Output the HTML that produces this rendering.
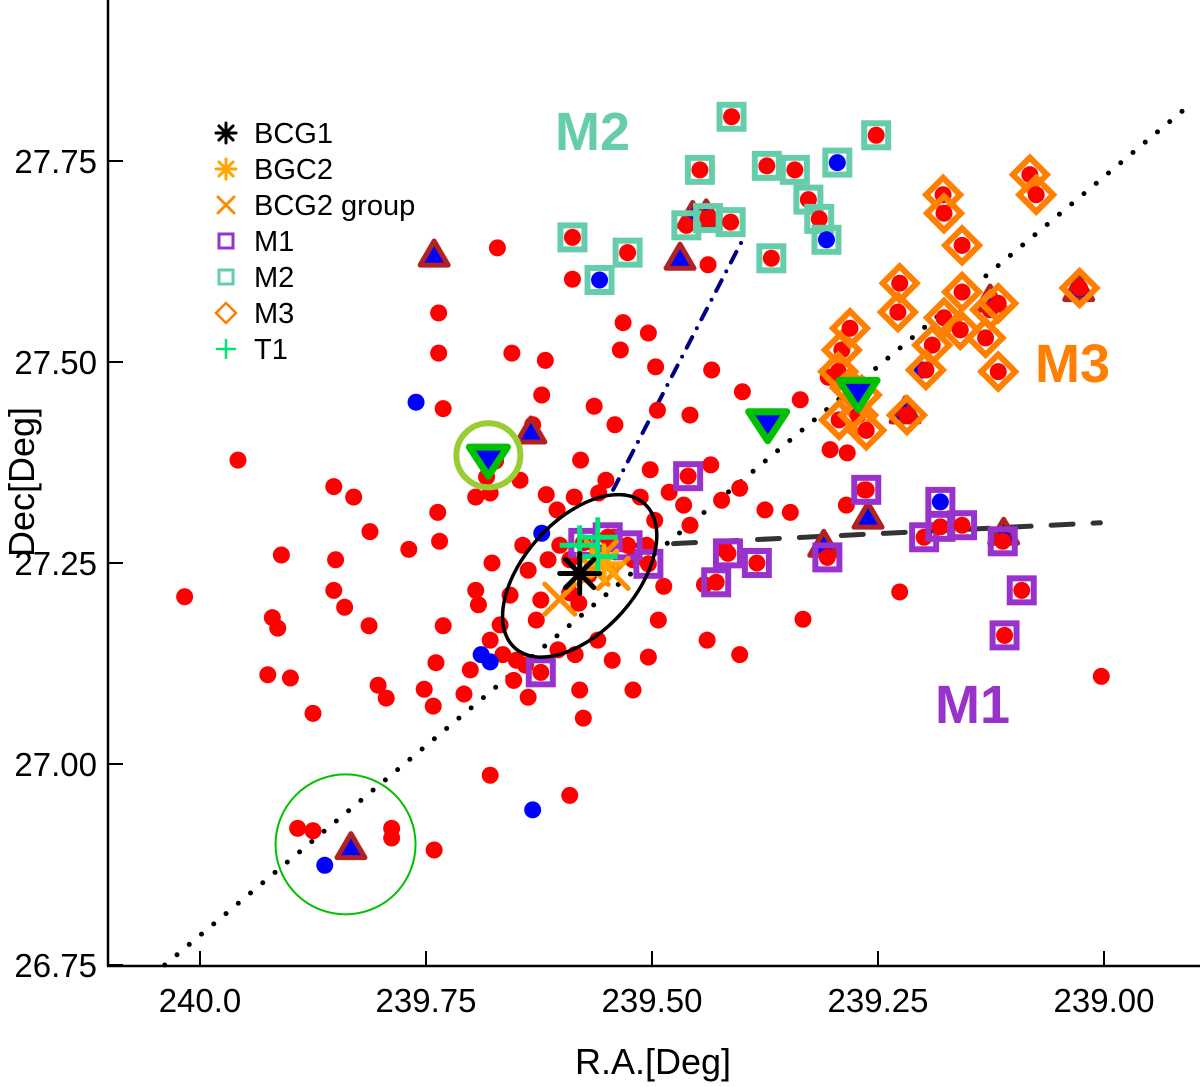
<!DOCTYPE html>
<html><head><meta charset="utf-8"><style>
body{margin:0;background:#fff}
svg text{font-family:"Liberation Sans",sans-serif}
</style></head><body>
<svg id="chart" width="1200" height="1082" viewBox="0 0 1200 1082" xmlns="http://www.w3.org/2000/svg">
<g id="marks"></g>
<g id="axes"></g>
<g id="legend"></g>
<text x="555" y="150" font-size="54" font-weight="bold" fill="#66cdaa">M2</text>
<text x="1035" y="382" font-size="54" font-weight="bold" fill="#ff7f00">M3</text>
<text x="935" y="723" font-size="54" font-weight="bold" fill="#9932cc">M1</text>
<text x="653" y="1074" font-size="36" text-anchor="middle">R.A.[Deg]</text>
<text transform="translate(34,482) rotate(-90)" font-size="36" text-anchor="middle">Dec[Deg]</text>
</svg>
<script>
const xTicks=[240.0,239.75,239.5,239.25,239.0];
const xTickLabels=["240.0","239.75","239.50","239.25","239.00"];
const yTicks=[26.75,27.0,27.25,27.5,27.75];
const yTickLabels=["26.75","27.00","27.25","27.50","27.75"];
const redPoints=[[240.017,27.208],[239.958,27.378],[239.910,27.260],[239.920,27.182],[239.914,27.169],[239.925,27.111],[239.900,27.107],[239.875,27.063],[239.852,27.345],[239.830,27.332],[239.850,27.254],[239.852,27.216],[239.840,27.195],[239.812,27.289],[239.813,27.172],[239.803,27.098],[239.794,27.082],[239.769,27.267],[239.737,27.313],[239.735,27.277],[239.731,27.172],[239.739,27.126],[239.752,27.093],[239.742,27.072],[239.708,27.087],[239.695,27.332],[239.683,27.357],[239.673,27.377],[239.679,27.337],[239.671,27.642],[239.736,27.561],[239.736,27.511],[239.731,27.442],[239.655,27.511],[239.618,27.502],[239.622,27.459],[239.632,27.422],[239.646,27.353],[239.617,27.335],[239.605,27.316],[239.586,27.332],[239.579,27.378],[239.559,27.337],[239.551,27.353],[239.564,27.445],[239.541,27.422],[239.535,27.515],[239.532,27.549],[239.504,27.536],[239.496,27.494],[239.494,27.440],[239.502,27.366],[239.513,27.332],[239.497,27.303],[239.506,27.272],[239.487,27.221],[239.481,27.338],[239.465,27.322],[239.458,27.297],[239.458,27.434],[239.434,27.490],[239.435,27.372],[239.423,27.328],[239.400,27.463],[239.403,27.343],[239.375,27.316],[239.347,27.313],[239.336,27.453],[239.333,27.180],[239.419,27.266],[239.442,27.223],[239.439,27.154],[239.403,27.136],[239.493,27.179],[239.504,27.133],[239.521,27.092],[239.544,27.129],[239.576,27.057],[239.580,27.092],[239.560,27.154],[239.570,27.235],[239.591,27.254],[239.602,27.272],[239.615,27.254],[239.637,27.241],[239.657,27.210],[239.677,27.250],[239.695,27.216],[239.692,27.198],[239.679,27.154],[239.665,27.136],[239.650,27.129],[239.653,27.104],[239.640,27.123],[239.637,27.083],[239.701,27.117],[239.679,26.986],[239.591,26.961],[239.741,26.893],[239.788,26.920],[239.788,26.908],[239.892,26.920],[239.875,26.917],[239.668,27.173],[239.604,27.142],[239.585,27.136],[239.628,27.179],[239.623,27.204],[239.591,27.213],[239.581,27.200],[239.542,27.282],[239.521,27.254],[239.643,27.272],[239.588,27.603],[239.438,27.621],[239.226,27.214],[239.003,27.109],[239.265,27.341],[239.305,27.481],[239.284,27.387],[239.285,27.322],[239.303,27.391]];
const bluePoints=[[239.761,27.450],[239.622,27.287],[239.689,27.136],[239.679,27.127],[239.632,26.943],[239.862,26.874],[239.201,27.490]];
const m2Points=[[239.588,27.655],[239.558,27.602],[239.527,27.636],[239.447,27.739],[239.462,27.670],[239.438,27.679],[239.413,27.674],[239.412,27.805],[239.373,27.744],[239.342,27.739],[239.368,27.629],[239.327,27.702],[239.315,27.678],[239.307,27.652],[239.295,27.748],[239.252,27.782]];
const m2Blue=[0,1,0,0,0,0,0,0,0,0,0,0,0,1,1,0];
const m3Points=[[239.290,27.515],[239.281,27.542],[239.293,27.428],[239.272,27.434],[239.263,27.415],[239.268,27.459],[239.226,27.598],[239.228,27.562],[239.190,27.521],[239.197,27.490],[239.178,27.708],[239.177,27.685],[239.157,27.645],[239.157,27.587],[239.177,27.555],[239.159,27.540],[239.126,27.565],[239.117,27.573],[239.131,27.530],[239.117,27.488],[239.082,27.733],[239.075,27.708],[239.027,27.592],[239.218,27.434],[239.294,27.488],[239.281,27.468]];
const m1Points=[[239.460,27.358],[239.416,27.262],[239.429,27.226],[239.384,27.250],[239.504,27.249],[239.527,27.272],[239.549,27.282],[239.576,27.275],[239.623,27.114],[239.306,27.257],[239.263,27.341],[239.199,27.282],[239.181,27.326],[239.181,27.295],[239.157,27.297],[239.112,27.277],[239.091,27.216],[239.110,27.160]];
const m1Blue=[0,0,0,0,0,0,0,0,0,0,0,0,1,0,0,0,0,0];
const triUp=[[239.741,27.633],[239.634,27.413],[239.469,27.629],[239.261,27.307],[239.310,27.272],[239.111,27.287],[239.220,27.438],[239.440,27.683],[239.833,26.896],[239.028,27.590],[239.126,27.577],[239.455,27.681]];
const triDown=[[239.681,27.378],[239.372,27.422],[239.272,27.461]];
const bcg1=[[239.580,27.237]];
const bcg2=[[239.553,27.249]];
const bcg2Group=[[239.602,27.205],[239.565,27.242],[239.543,27.237],[239.556,27.258]];
const t1=[[239.580,27.272],[239.560,27.282],[239.560,27.258]];
const dottedLine=[[240.039,26.75],[238.905,27.82]];
const dashDotLine=[[239.543,27.341],[239.397,27.658]];
const dashedLine=[[239.569,27.269],[239.004,27.300]];
const ellipseCenter=[239.580,27.234];
const greenCircle=[239.839,26.900];
const yellowCircle=[239.681,27.384];

const xs=ra=>200+(240-ra)*904;
const ys=d=>965-(d-26.75)*804;
const NS="http://www.w3.org/2000/svg";
const marks=document.getElementById('marks'),axes=document.getElementById('axes'),legend=document.getElementById('legend');
function mk(tag,attrs,parent){const e=document.createElementNS(NS,tag);for(const k in attrs)e.setAttribute(k,attrs[k]);parent.appendChild(e);return e;}

function line(pts,style,name){const e=mk('line',Object.assign({x1:xs(pts[0][0]),y1:ys(pts[0][1]),x2:xs(pts[1][0]),y2:ys(pts[1][1])},style),marks);

}
line(dottedLine,{stroke:'#000','stroke-width':5,'stroke-linecap':'round','stroke-dasharray':'0 16'},'diagonal-dotted-line');
line(dashDotLine,{stroke:'#000080','stroke-width':4,'stroke-linecap':'round','stroke-dasharray':'12 10 0 10'},'dash-dot-line');
line(dashedLine,{stroke:'#333','stroke-width':5,'stroke-linecap':'round','stroke-dasharray':'22 20'},'dashed-line');

function dot(p,c,name){const e=mk('circle',{cx:xs(p[0]),cy:ys(p[1]),r:8.5,fill:c},marks);

}
redPoints.forEach(p=>dot(p,'#ff0000','red-galaxy'));
bluePoints.forEach(p=>dot(p,'#0000ff','blue-galaxy'));

triUp.forEach(p=>{const x=xs(p[0]),y=ys(p[1]);
const e=mk('polygon',{points:`${x},${y-14} ${x+14},${y+10} ${x-14},${y+10}`,fill:'#0000ff',stroke:'#b22222','stroke-width':5,'stroke-linejoin':'round'},marks);

});

m2Points.forEach((p,i)=>{const x=xs(p[0]),y=ys(p[1]);
const e=mk('rect',{x:x-12,y:y-12,width:24,height:24,fill:'none',stroke:'#66cdaa','stroke-width':6},marks);


dot(p,m2Blue[i]?'#0000ff':'#ff0000','m2-galaxy');});
m1Points.forEach((p,i)=>{const x=xs(p[0]),y=ys(p[1]);
const e=mk('rect',{x:x-12,y:y-12,width:24,height:24,fill:'none',stroke:'#9932cc','stroke-width':6},marks);


dot(p,m1Blue[i]?'#0000ff':'#ff0000','m1-galaxy');});
m3Points.forEach(p=>{const x=xs(p[0]),y=ys(p[1]);
const e=mk('polygon',{points:`${x},${y-17} ${x+17},${y} ${x},${y+17} ${x-17},${y}`,fill:'none',stroke:'#ff7f00','stroke-width':6},marks);


dot(p,'#ff0000','m3-galaxy');});

triDown.forEach(p=>{const x=xs(p[0]),y=ys(p[1]);
const e=mk('polygon',{points:`${x-19},${y-13} ${x+19},${y-13} ${x},${y+16}`,fill:'#0000ff',stroke:'#00c000','stroke-width':7,'stroke-linejoin':'round'},marks);

});

{const e=mk('ellipse',{cx:0,cy:0,rx:97,ry:56,fill:'none',stroke:'#000','stroke-width':3.5,transform:`translate(${xs(ellipseCenter[0])},${ys(ellipseCenter[1])}) rotate(-48)`},marks);

}
{const e=mk('circle',{cx:xs(greenCircle[0]),cy:ys(greenCircle[1]),r:70,fill:'none',stroke:'#00c000','stroke-width':2},marks);

}
{const e=mk('circle',{cx:xs(yellowCircle[0]),cy:ys(yellowCircle[1]),r:32,fill:'none',stroke:'#9acd32','stroke-width':6},marks);

}

function star(x,y,r,c,w,parent){const g=mk('g',{stroke:c,'stroke-width':w,'stroke-linecap':'round'},parent);
for(let k=0;k<4;k++){const a=k*Math.PI/4;mk('line',{x1:x-r*Math.cos(a),y1:y-r*Math.sin(a),x2:x+r*Math.cos(a),y2:y+r*Math.sin(a)},g);}return g;}
function cross(x,y,r,c,w,parent){const g=mk('g',{stroke:c,'stroke-width':w,'stroke-linecap':'round'},parent);
mk('line',{x1:x-r,y1:y-r,x2:x+r,y2:y+r},g);mk('line',{x1:x-r,y1:y+r,x2:x+r,y2:y-r},g);return g;}
function plus(x,y,r,c,w,parent){const g=mk('g',{stroke:c,'stroke-width':w},parent);
mk('line',{x1:x-r,y1:y,x2:x+r,y2:y},g);mk('line',{x1:x,y1:y-r,x2:x,y2:y+r},g);return g;}
bcg2Group.forEach(p=>{const g=cross(xs(p[0]),ys(p[1]),15,'#ff8c00',5,marks);

});
bcg2.forEach(p=>{const g=star(xs(p[0]),ys(p[1]),18,'#ffa500',5,marks);

});
t1.forEach(p=>{const g=plus(xs(p[0]),ys(p[1]),20,'#00e676',5,marks);

});
bcg1.forEach(p=>{const g=star(xs(p[0]),ys(p[1]),20,'#000',5,marks);

});

mk('line',{x1:108,y1:0,x2:108,y2:966,stroke:'#000','stroke-width':2.5},axes);
mk('line',{x1:107,y1:966,x2:1200,y2:966,stroke:'#000','stroke-width':2.5},axes);
xTicks.forEach((v,i)=>{const x=xs(v);mk('line',{x1:x,y1:966,x2:x,y2:951,stroke:'#000','stroke-width':2},axes);
const t=mk('text',{x:x,y:1012,'font-size':33,'text-anchor':'middle'},axes);t.textContent=xTickLabels[i];

});
yTicks.forEach((v,i)=>{const y=ys(v);mk('line',{x1:108,y1:y,x2:123,y2:y,stroke:'#000','stroke-width':2},axes);
const t=mk('text',{x:97,y:y+12,'font-size':33,'text-anchor':'end'},axes);t.textContent=yTickLabels[i];

});

const legendLabels=["BCG1","BGC2","BCG2 group","M1","M2","M3","T1"];
legendLabels.forEach((lab,i)=>{const y=133+i*36;const g=mk('g',{},legend);


const sx=226;
if(i===0)star(sx,y,10,'#000',3,g);
if(i===1)star(sx,y,10,'#ffa500',3,g);
if(i===2)cross(sx,y,8,'#ff8c00',3,g);
if(i===3)mk('rect',{x:sx-7,y:y-7,width:14,height:14,fill:'none',stroke:'#9932cc','stroke-width':3},g);
if(i===4)mk('rect',{x:sx-7,y:y-7,width:14,height:14,fill:'none',stroke:'#66cdaa','stroke-width':3},g);
if(i===5)mk('polygon',{points:`${sx},${y-10} ${sx+10},${y} ${sx},${y+10} ${sx-10},${y}`,fill:'none',stroke:'#ff7f00','stroke-width':2.5},g);
if(i===6)plus(sx,y,10,'#00e676',2.5,g);
const t=mk('text',{x:254,y:y+10,'font-size':29},g);t.textContent=lab;});
</script>
</body></html>
